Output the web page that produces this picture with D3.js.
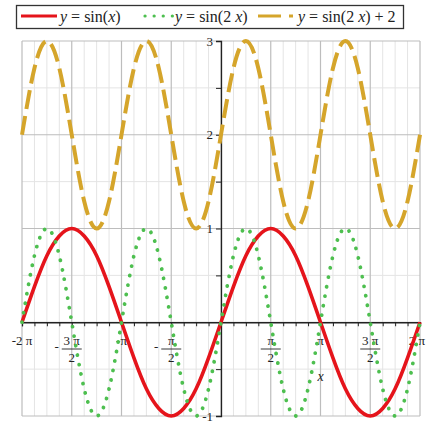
<!DOCTYPE html>
<html>
<head>
<meta charset="utf-8">
<script src="https://cdn.jsdelivr.net/npm/d3@7"></script>
<style>
  html, body { margin: 0; padding: 0; background: #fff; }
  svg { display: block; }
</style>
</head>
<body>
<svg id="chart" width="426" height="423" font-family="'Liberation Serif', 'DejaVu Serif', Times, serif"></svg>
<script>
// Sample positions, in multiples of pi (step pi/8)
const xPi = [-2, -1.875, -1.75, -1.625, -1.5, -1.375, -1.25, -1.125,
             -1, -0.875, -0.75, -0.625, -0.5, -0.375, -0.25, -0.125,
             0, 0.125, 0.25, 0.375, 0.5, 0.625, 0.75, 0.875,
             1, 1.125, 1.25, 1.375, 1.5, 1.625, 1.75, 1.875, 2];

// y = sin(x)
const sinX = [0, 0.38, 0.71, 0.92, 1, 0.92, 0.71, 0.38,
              0, -0.38, -0.71, -0.92, -1, -0.92, -0.71, -0.38,
              0, 0.38, 0.71, 0.92, 1, 0.92, 0.71, 0.38,
              0, -0.38, -0.71, -0.92, -1, -0.92, -0.71, -0.38, 0];

// y = sin(2x)
const sin2X = [0, 0.71, 1, 0.71, 0, -0.71, -1, -0.71,
               0, 0.71, 1, 0.71, 0, -0.71, -1, -0.71,
               0, 0.71, 1, 0.71, 0, -0.71, -1, -0.71,
               0, 0.71, 1, 0.71, 0, -0.71, -1, -0.71, 0];

// y = sin(2x) + 2
const sin2XPlus2 = [2, 2.71, 3, 2.71, 2, 1.29, 1, 1.29,
                    2, 2.71, 3, 2.71, 2, 1.29, 1, 1.29,
                    2, 2.71, 3, 2.71, 2, 1.29, 1, 1.29,
                    2, 2.71, 3, 2.71, 2, 1.29, 1, 1.29, 2];

// Axis ticks
const xTickPi = [-2, -1.5, -1, -0.5, 0.5, 1, 1.5, 2];
const xTickLabels = [
  {sign: "-", num: "2 π", den: null},
  {sign: "-", num: "3 π", den: "2"},
  {sign: "-", num: "π", den: null},
  {sign: "-", num: "π", den: "2"},
  {sign: "", num: "π", den: "2"},
  {sign: "", num: "π", den: null},
  {sign: "", num: "3 π", den: "2"},
  {sign: "", num: "2 π", den: null}
];
const yTicks = [3, 2, 1, -1];
const yTickLabels = ["3", "2", "1", "-1"];

const colors = {red: "#e5141b", green: "#4dbf4f", gold: "#d5a52b"};

const svg = d3.select("#chart");
const x = d3.scaleLinear().domain([-2, 2]).range([22, 420]);
const y = d3.scaleLinear().domain([-1, 3]).range([416, 41]);

// Grid: minor lines first, then major ones
const grid = svg.append("g");
const minorX = d3.range(-16, 17).map(k => k / 8).filter(v => Math.abs(v * 2 - Math.round(v * 2)) > 1e-9);
const majorX = d3.range(-4, 5).map(k => k / 2);
const minorY = [-0.5, 0.5, 1.5, 2.5];
const majorY = [-1, 0, 1, 2, 3];

grid.selectAll(".vminor").data(minorX).join("line")
  .attr("x1", d => x(d)).attr("x2", d => x(d)).attr("y1", y(3)).attr("y2", y(-1))
  .attr("stroke", "#e4e4e4").attr("stroke-width", 1);
grid.selectAll(".hminor").data(minorY).join("line")
  .attr("x1", x(-2)).attr("x2", x(2)).attr("y1", d => y(d)).attr("y2", d => y(d))
  .attr("stroke", "#e4e4e4").attr("stroke-width", 1);
grid.selectAll(".vmajor").data(majorX).join("line")
  .attr("x1", d => x(d)).attr("x2", d => x(d)).attr("y1", y(3)).attr("y2", y(-1))
  .attr("stroke", "#bdbdbd").attr("stroke-width", 1.2);
grid.selectAll(".hmajor").data(majorY).join("line")
  .attr("x1", x(-2)).attr("x2", x(2)).attr("y1", d => y(d)).attr("y2", d => y(d))
  .attr("stroke", "#bdbdbd").attr("stroke-width", 1.2);

// x axis through y = 0
const xAxis = d3.axisBottom(x).tickValues(d3.range(-16, 17).map(k => k / 8))
  .tickSize(4).tickFormat("");
const gx = svg.append("g").attr("transform", `translate(0,${y(0)})`).call(xAxis);
gx.select(".domain").attr("stroke", "#222").attr("stroke-width", 1.3);
gx.selectAll(".tick line").attr("stroke", "#222");

// y axis through x = 0
const yAxis = d3.axisLeft(y).tickValues([-1, -0.5, 0.5, 1, 1.5, 2, 2.5, 3])
  .tickSize(5).tickFormat("");
const gy = svg.append("g").attr("transform", `translate(${x(0)},0)`).call(yAxis);
gy.select(".domain").attr("stroke", "#222").attr("stroke-width", 1.3);
gy.selectAll(".tick line").attr("stroke", "#222");

// x tick labels (fractions of pi)
const xl = svg.append("g").attr("font-size", 13).attr("fill", "#222");
xTickPi.forEach((v, i) => {
  const lab = xTickLabels[i];
  const cx = x(v);
  const g = xl.append("g");
  if (lab.den) {
    g.append("text").attr("x", cx).attr("y", 345).attr("text-anchor", "middle").text(lab.num);
    g.append("line").attr("x1", cx - 10).attr("x2", cx + 10).attr("y1", 349).attr("y2", 349)
      .attr("stroke", "#222").attr("stroke-width", 0.9);
    g.append("text").attr("x", cx).attr("y", 362).attr("text-anchor", "middle").text(lab.den);
    if (lab.sign) {
      g.append("text").attr("x", cx - 13).attr("y", 351).attr("text-anchor", "end").text("-");
    }
  } else if (v === 2) {
    // keep the last label inside the canvas
    g.append("text").attr("x", 425).attr("y", 345).attr("text-anchor", "end").text(lab.sign + lab.num);
  } else {
    g.append("text").attr("x", cx).attr("y", 345).attr("text-anchor", "middle").text(lab.sign + lab.num);
  }
});

// y tick labels
svg.append("g").attr("font-size", 13).attr("fill", "#222")
  .selectAll("text").data(yTicks).join("text")
  .attr("x", x(0) - 8).attr("y", d => y(d) + 4.5)
  .attr("text-anchor", "end").text((d, i) => yTickLabels[i]);

// axis label
svg.append("text").attr("x", x(1)).attr("y", 381).attr("text-anchor", "middle")
  .attr("font-size", 14).attr("font-style", "italic").attr("fill", "#222").text("x");

// Curves
const line = vals => d3.line()
  .x((d, i) => x(xPi[i])).y(d => y(d)).curve(d3.curveNatural)(vals);

svg.append("path").attr("d", line(sinX)).attr("fill", "none")
  .attr("stroke", colors.red).attr("stroke-width", 3.6).attr("stroke-linejoin", "round");
svg.append("path").attr("d", line(sin2X)).attr("fill", "none")
  .attr("stroke", colors.green).attr("stroke-width", 3.8)
  .attr("stroke-linecap", "round").attr("stroke-dasharray", "0.1 9.5");
svg.append("path").attr("d", line(sin2XPlus2)).attr("fill", "none")
  .attr("stroke", colors.gold).attr("stroke-width", 4)
  .attr("stroke-dasharray", "19 7");

// Legend
const lg = svg.append("g");
lg.append("rect").attr("x", 16.5).attr("y", 5.5).attr("width", 387).attr("height", 23)
  .attr("fill", "#fff").attr("stroke", "#333").attr("stroke-width", 1.3);
lg.append("line").attr("x1", 21).attr("x2", 57).attr("y1", 16).attr("y2", 16)
  .attr("stroke", colors.red).attr("stroke-width", 3);
lg.append("line").attr("x1", 145).attr("x2", 173).attr("y1", 16).attr("y2", 16)
  .attr("stroke", colors.green).attr("stroke-width", 3.2)
  .attr("stroke-linecap", "round").attr("stroke-dasharray", "0.1 9");
lg.append("line").attr("x1", 258).attr("x2", 293).attr("y1", 16).attr("y2", 16)
  .attr("stroke", colors.gold).attr("stroke-width", 3).attr("stroke-dasharray", "23 8");

function legendText(x0, parts) {
  const t = lg.append("text").attr("x", x0).attr("y", 22).attr("font-size", 16).attr("fill", "#222");
  parts.forEach(p => {
    t.append("tspan").attr("font-style", p[1] ? "italic" : "normal").text(p[0]);
  });
}
legendText(60, [["y", true], [" = sin(", false], ["x", true], [")", false]]);
legendText(175, [["y", true], [" = sin(2 ", false], ["x", true], [")", false]]);
legendText(298, [["y", true], [" = sin(2 ", false], ["x", true], [")  + 2", false]]);
</script>
</body>
</html>
